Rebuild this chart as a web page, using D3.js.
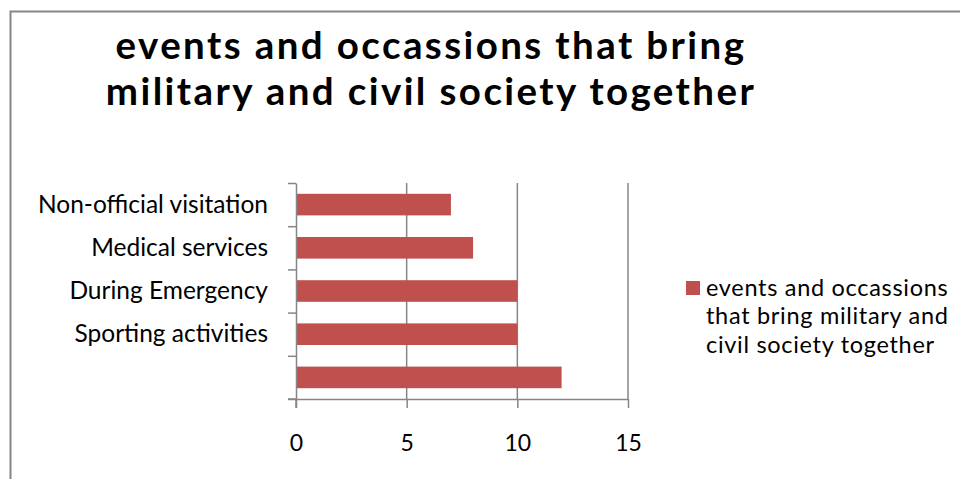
<!DOCTYPE html>
<html>
<head>
<meta charset="utf-8">
<script src="https://cdn.jsdelivr.net/npm/d3@7"></script>
<style>
  body { margin: 0; background: #fff; }
  text { font-family: Lato, "Open Sans", sans-serif; fill: #000; }
</style>
</head>
<body>
<div id="chart"></div>
<script>
// chart data
var categories = ["Non-official visitation", "Medical services", "During Emergency", "Sporting activities", ""];
var values = [7, 8, 10, 10, 12];
var xTicks = [0, 5, 10, 15];
var titleLines = ["events and occassions that bring", "military and civil society together"];
var legendLines = ["events and occassions", "that bring military and", "civil society together"];

var svgWidth = 960, svgHeight = 479;
var plot = {left: 296, right: 628, top: 183, bottom: 399};
var barColor = "#C0504D", lineColor = "#868686";

var svg = d3.select("#chart")
  .append("svg")
    .attr("width", svgWidth)
    .attr("height", svgHeight);

// outer border (chart area continues past the window)
svg.append("rect")
  .attr("x", 10.5).attr("y", 11.5)
  .attr("width", 1000).attr("height", 1000)
  .attr("fill", "none")
  .attr("stroke", lineColor)
  .attr("stroke-width", 2);

// title
svg.append("text")
  .attr("x", 431)
  .attr("text-anchor", "middle")
  .style("font-weight", "bold")
  .style("font-size", "38.5px")
  .style("letter-spacing", "2.4px")
  .selectAll("tspan")
  .data(titleLines)
  .enter()
  .append("tspan")
    .attr("x", 431)
    .attr("y", function(d, i) { return 59 + i * 46; })
    .text(function(d) { return d; });

var x = d3.scaleLinear()
    .domain([0, 15])
    .range([plot.left, plot.right]);

var y = d3.scaleBand()
    .domain(categories)
    .range([plot.top, plot.bottom])
    .paddingInner(0.5)
    .paddingOuter(0.25);

// boundaries between categories, for the tick marks
var yEdge = d3.scaleLinear()
    .domain([0, categories.length])
    .range([plot.top, plot.bottom]);

// vertical gridlines
svg.append("g")
  .selectAll("line")
  .data(xTicks.slice(1))
  .enter()
  .append("line")
    .attr("x1", function(d) { return x(d); })
    .attr("x2", function(d) { return x(d); })
    .attr("y1", plot.top)
    .attr("y2", plot.bottom)
    .attr("stroke", lineColor)
    .attr("stroke-width", 1.5);

// bars
svg.append("g")
  .selectAll("rect")
  .data(values)
  .enter()
  .append("rect")
    .attr("x", x(0))
    .attr("y", function(d, i) { return y(categories[i]); })
    .attr("width", function(d) { return x(d) - x(0); })
    .attr("height", y.bandwidth())
    .attr("fill", barColor);

// left axis with ticks at category boundaries
var leftAxis = svg.append("g")
  .attr("transform", "translate(" + plot.left + ",0)")
  .call(d3.axisLeft(yEdge)
    .tickValues(d3.range(categories.length + 1))
    .tickSize(8)
    .tickSizeOuter(0)
    .tickFormat(""));

// bottom axis
var bottomAxis = svg.append("g")
  .attr("transform", "translate(0," + plot.bottom + ")")
  .call(d3.axisBottom(x)
    .tickValues(xTicks)
    .tickSize(9)
    .tickSizeOuter(0)
    .tickPadding(27));

bottomAxis.selectAll("text").style("font-size", "23px");

// extend the left axis line to the bottom tick length and the bottom line to the left tick
svg.append("line")
  .attr("x1", plot.left).attr("x2", plot.left)
  .attr("y1", plot.bottom).attr("y2", plot.bottom + 9)
  .attr("stroke", lineColor).attr("stroke-width", 1.5);
svg.append("line")
  .attr("x1", plot.left - 8).attr("x2", plot.left)
  .attr("y1", plot.bottom).attr("y2", plot.bottom)
  .attr("stroke", lineColor).attr("stroke-width", 1.5);

[leftAxis, bottomAxis].forEach(function(g) {
  g.selectAll(".domain, line").attr("stroke", lineColor).attr("stroke-width", 1.5);
});

// category labels
svg.append("g")
  .selectAll("text")
  .data(categories)
  .enter()
  .append("text")
    .attr("x", 268)
    .attr("y", function(d) { return y(d) + y.bandwidth() / 2 + 8; })
    .attr("text-anchor", "end")
    .style("font-size", "24.5px")
    .text(function(d) { return d; });

// legend
svg.append("rect")
  .attr("x", 686).attr("y", 281)
  .attr("width", 14).attr("height", 14)
  .attr("fill", barColor);

svg.append("text")
  .style("font-size", "23.5px")
  .style("letter-spacing", "0.7px")
  .selectAll("tspan")
  .data(legendLines)
  .enter()
  .append("tspan")
    .attr("x", 706)
    .attr("y", function(d, i) { return 296 + i * 28.4; })
    .text(function(d) { return d; });
</script>
</body>
</html>
